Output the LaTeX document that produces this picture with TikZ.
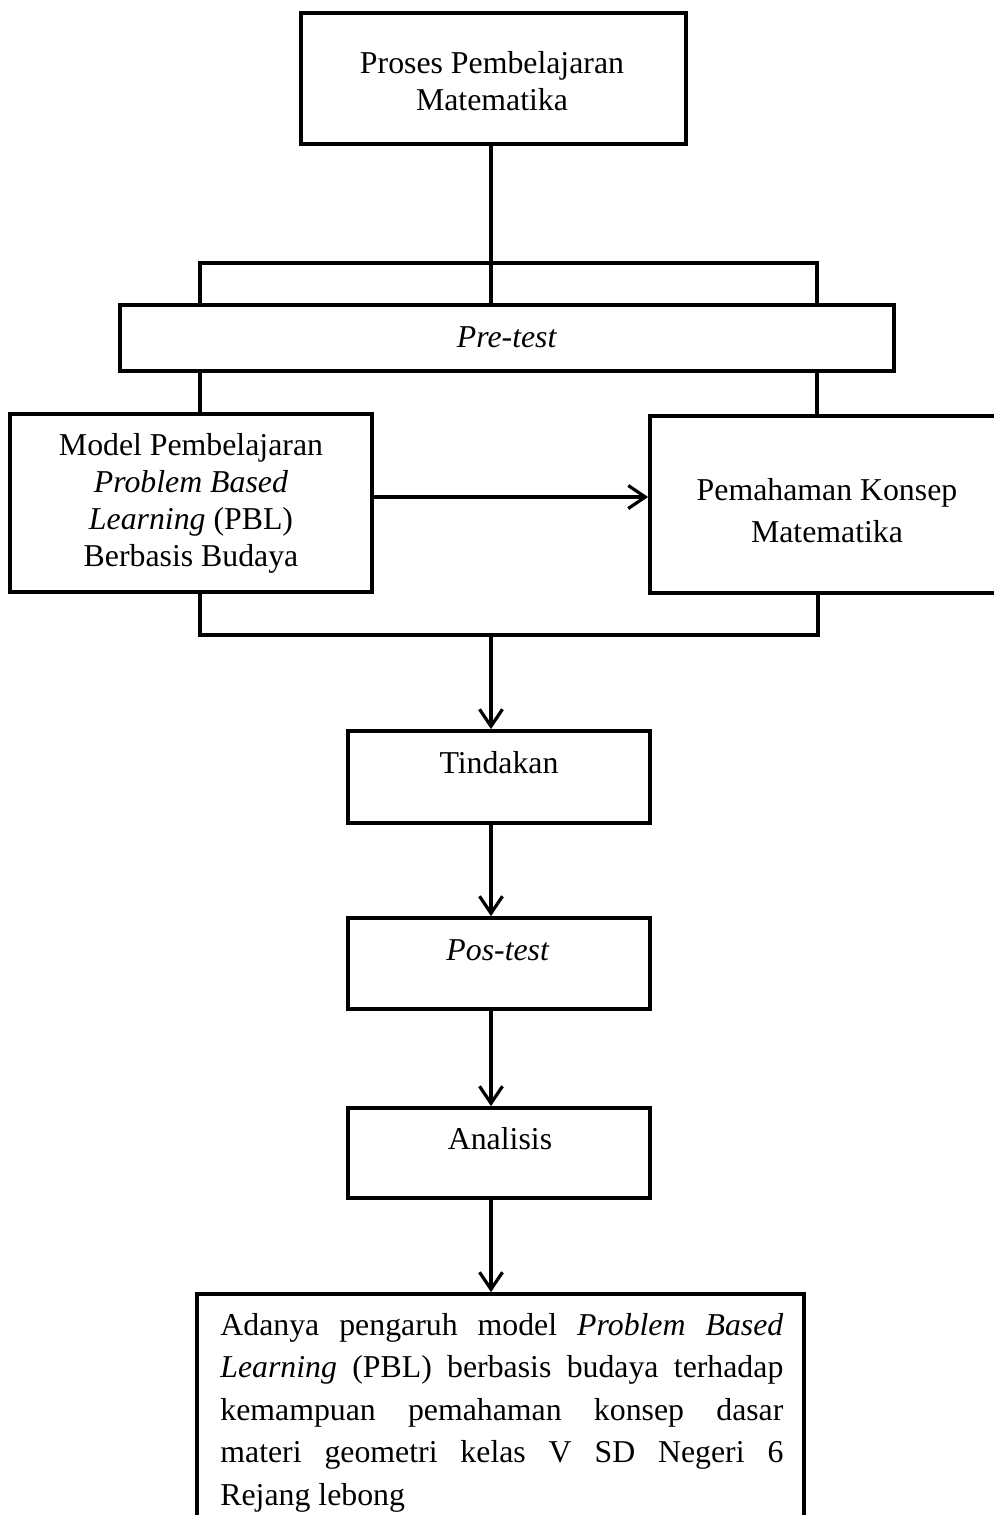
\documentclass[tikz,border=0pt]{standalone}
\usepackage{fontspec}
\setmainfont{Liberation Serif}
\usetikzlibrary{arrows.meta}
\begin{document}
\begin{tikzpicture}[x=0.5pt,y=-0.5pt,
  box/.style={draw, line width=1.9pt, inner sep=0pt, rectangle},
  link/.style={line width=1.6pt},
  arr/.style={line width=1.6pt, -{Straight Barb[length=8.5pt,width=11.5pt]}},
  txt/.style={inner sep=0pt, anchor=base, font=\fontsize{15.9}{18.5}\selectfont}]
\clip (0,0) rectangle (994,1515);
\useasboundingbox (0,0) rectangle (994,1515);

% boxes
\node[box, minimum width=192.5pt, minimum height=65.5pt] (top) at (493.5,78.5) {};
\node[box, minimum width=387pt, minimum height=33pt] (pre) at (507,338) {};
\node[box, minimum width=181pt, minimum height=89pt] (left) at (191,503) {};
\node[box, minimum width=177pt, minimum height=88.5pt] (right) at (827,504.5) {};
\node[box, minimum width=151pt, minimum height=46pt] (tind) at (499,777) {};
\node[box, minimum width=151pt, minimum height=45.5pt] (pos) at (499,963.5) {};
\node[box, minimum width=151pt, minimum height=45pt] (anal) at (499,1153) {};
\node[box, minimum width=303.5pt, minimum height=123pt] (res) at (500.5,1417) {};

% texts
\node[txt] (ttop) at (492,73) {\parbox[t]{190pt}{\centering Proses Pembelajaran\\Matematika}};
\node[txt] (tpre) at (507,347) {\textit{Pre-test}};
\node[txt] (tleft) at (191,455) {\parbox[t]{180pt}{\centering Model Pembelajaran\\\textit{Problem Based}\\\textit{Learning} (PBL)\\Berbasis Budaya}};
\node[txt, font=\fontsize{15.9}{21}\selectfont] (tright) at (827,500) {\parbox[t]{175pt}{\centering Pemahaman Konsep\\Matematika}};
\node[txt] (ttind) at (499,773) {Tindakan};
\node[txt] (tpos) at (498,960) {\textit{Pos-test}};
\node[txt] (tanal) at (500,1149) {Analisis};
\node[txt, anchor=base west] (tres) at (220,1335) {\parbox[t]{281.5pt}{\fontsize{15.9}{21.25}\selectfont\hyphenpenalty=10000\parindent=0pt
Adanya pengaruh model \textit{Problem Based}\linebreak
\textit{Learning} (PBL) berbasis budaya terhadap\linebreak
kemampuan pemahaman konsep dasar\linebreak
materi geometri kelas V SD Negeri 6\linebreak
Rejang lebong}};

% helper coordinates
\coordinate (mx) at (491,0);
\coordinate (b1) at (200,263);
\coordinate (b2) at (817,263);
\coordinate (ay) at (0,497);
\coordinate (d1) at (200,635);
\coordinate (d2) at (818,635);

% connectors
\draw[link] (mx |- top.south) -- (mx |- pre.north);
\draw[link] (b1 |- pre.north) -- (b1) -- (b2) -- (b2 |- pre.north);
\draw[link] (b1 |- pre.south) -- (b1 |- left.north);
\draw[link] (b2 |- pre.south) -- (b2 |- right.north);
\draw[arr] (ay -| left.east) -- (ay -| right.west);
\draw[link] (d1 |- left.south) -- (d1) -- (d2) -- (d2 |- right.south);
\draw[arr] (mx |- d1) -- (mx |- tind.north);
\draw[arr] (mx |- tind.south) -- (mx |- pos.north);
\draw[arr] (mx |- pos.south) -- (mx |- anal.north);
\draw[arr] (mx |- anal.south) -- (mx |- res.north);
\end{tikzpicture}
\end{document}
